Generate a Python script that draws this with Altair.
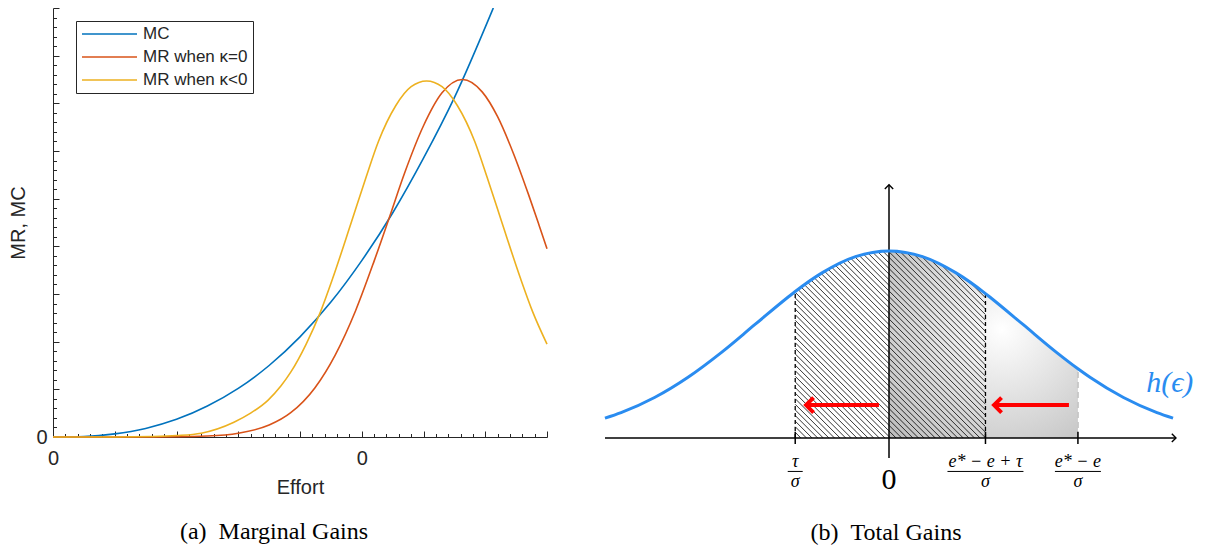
import altair as alt
import numpy as np
import pandas as pd

INK = "#262626"
SANS = "Liberation Sans"
SERIF = "Liberation Serif"

# =====================  (a) Marginal Gains  =====================
series_names = ["MC", "MR when κ=0", "MR when κ<0"]
series_colors = ["#0072BD", "#D95319", "#EDB120"]

mc_effort = [0.0, 0.5, 1.0, 1.5, 2.0, 2.5, 3.0, 3.5, 4.0, 4.5, 5.0, 5.5, 6.0, 6.5, 7.13]
mc_value = [0.0, 0.01, 0.065, 0.18, 0.37, 0.65, 1.02, 1.5, 2.1, 2.83, 3.7, 4.7, 5.85, 7.12, 9.0]

mr0_effort = [0.0, 1.0, 2.0, 2.5, 3.0, 3.5, 3.85, 4.24, 4.57, 4.9, 5.2, 5.44, 5.7, 6.0,
              6.3, 6.63, 6.95, 7.2, 7.45, 7.7, 7.87, 8.0]
mr0_value = [0.0, 0.0, 0.005, 0.02, 0.08, 0.25, 0.51, 1.03, 1.72, 2.65, 3.69, 4.58, 5.56, 6.53,
             7.22, 7.50, 7.24, 6.72, 5.97, 5.09, 4.45, 3.95]

mrn_effort = [0.0, 1.0, 1.6, 2.0, 2.4, 2.93, 3.2, 3.48, 3.69, 3.85, 4.1, 4.33, 4.53, 4.83,
              5.07, 5.27, 5.55, 5.8, 6.05, 6.3, 6.55, 6.83, 7.03, 7.27, 7.57, 7.77, 8.0]
mrn_value = [0.0, 0.0, 0.01, 0.03, 0.08, 0.31, 0.5, 0.77, 1.07, 1.36, 1.95, 2.62, 3.33, 4.5,
             5.45, 6.2, 6.95, 7.35, 7.47, 7.35, 6.95, 6.2, 5.45, 4.5, 3.33, 2.62, 1.95]

x_major = list(range(0, 9))
x_minor = [round(0.2 * i, 1) for i in range(41) if i % 5]
y_major = list(range(0, 10))
y_minor = [round(0.2 * i, 1) for i in range(46) if i % 5]
x_label_values = [0, 5]
y_label_values = [0]

frames = []
for name, xs, ys in zip(series_names, [mc_effort, mr0_effort, mrn_effort],
                        [mc_value, mr0_value, mrn_value]):
    frames.append(pd.DataFrame({"series": name, "effort": xs, "value": ys}))
df_a = pd.concat(frames, ignore_index=True)
df_anchor = pd.DataFrame({"effort": [0.0], "value": [0.0]})

xa = alt.Scale(domain=[0, 8], nice=False, zero=False)
ya = alt.Scale(domain=[0, 9], nice=False, zero=False)

lines = alt.Chart(df_a).mark_line(strokeWidth=1.6, interpolate="monotone").encode(
    x=alt.X("effort:Q", scale=xa, axis=alt.Axis(
        orient="bottom", values=x_label_values, labelExpr="'0'", ticks=False, tickSize=0,
        grid=False, domainColor=INK, domainWidth=1, labelFont=SANS, labelFontSize=20,
        labelColor=INK, labelPadding=11, labelFlush=False, title="Effort", titleFont=SANS,
        titleFontSize=20, titleFontWeight="normal", titleColor=INK, titlePadding=9)),
    y=alt.Y("value:Q", scale=ya, axis=alt.Axis(
        orient="left", values=y_label_values, labelExpr="'0'", ticks=False, tickSize=0,
        grid=False, domainColor=INK, domainWidth=1, labelFont=SANS, labelFontSize=20,
        labelColor=INK, labelPadding=6, labelFlush=False, labelBaseline="middle",
        title="MR, MC", titleFont=SANS, titleFontSize=20, titleFontWeight="normal",
        titleColor=INK, titlePadding=7)),
    color=alt.Color("series:N", scale=alt.Scale(domain=series_names, range=series_colors),
                    legend=alt.Legend(orient="none", legendX=23, legendY=13, title=None,
                                      symbolType="stroke", symbolSize=3025,
                                      symbolStrokeWidth=1.6, clipHeight=16, rowPadding=6,
                                      padding=5, strokeColor=INK, fillColor="white",
                                      labelFont=SANS, labelFontSize=17, labelColor=INK,
                                      labelOffset=5)),
)


def tick_axes(xv, yv, size):
    common = dict(labels=False, domain=False, grid=False, title=None, ticks=True,
                  tickSize=size, tickColor=INK, tickWidth=1, offset=-size)
    return alt.Chart(df_anchor).mark_point(opacity=0, size=0, strokeWidth=0).encode(
        x=alt.X("effort:Q", scale=xa, axis=alt.Axis(orient="bottom", values=xv, **common)),
        y=alt.Y("value:Q", scale=ya, axis=alt.Axis(orient="left", values=yv, **common)),
    )


left = alt.layer(lines, tick_axes(x_major, y_major, 6), tick_axes(x_minor, y_minor, 3.5)
                 ).resolve_axis(x="independent", y="independent").properties(
    width=494, height=429,
    title=alt.TitleParams("(a)\u2002Marginal Gains", orient="bottom", frame="group",
                          font=SERIF, fontSize=24, fontWeight="normal", color="black",
                          offset=23, dx=-26))

# =====================  (b) Total Gains  =====================
eps = [-2.12, -2.0, -1.75, -1.5, -1.25, -1.0, -0.75, -0.70, -0.5, -0.25, 0.0,
       0.25, 0.5, 0.72, 0.75, 1.0, 1.25, 1.41, 1.5, 1.75, 2.0, 2.12]
dens = [0.0422, 0.0540, 0.0863, 0.1295, 0.1826, 0.2420, 0.3011, 0.3123, 0.3521, 0.3867, 0.3989,
        0.3867, 0.3521, 0.3079, 0.3011, 0.2420, 0.1826, 0.1476, 0.1295, 0.0863, 0.0540, 0.0422]

tau_pos, gap_pos, target_pos = -0.70, 0.72, 1.41
bound_pos = [tau_pos, gap_pos, target_pos]
bound_top = [0.3123, 0.3079, 0.1476]
frac_num = ["τ", "e* − e + τ", "e* − e"]
frac_den = ["σ", "σ", "σ"]
arrow_from = [-0.075, 1.343]
arrow_to = [-0.619, 0.784]
arrow_y = [0.070, 0.070]
curve_label = ["h(ϵ)"]
curve_label_x = [1.92]
curve_label_y = [0.098]
axis_h = {"x1": [-2.12], "x2": [2.142], "y": [0.0]}
axis_v = {"x": [0.0], "y1": [-0.043], "y2": [0.54]}

# layout constants (pixels per unit on each axis, text positions)
PX_X, PX_Y = 134.0, 468.8
xdom = [-2.478, 2.254]
ydom = [-0.126, 0.917]
W_R = round((xdom[1] - xdom[0]) * PX_X)
H_R = round((ydom[1] - ydom[0]) * PX_Y)
NUM_BASE, BAR_Y, DEN_BASE, ZERO_BASE = -0.062, -0.0715, -0.1056, -0.1088
BAR_HALF_PX = [7.5, 38, 23]
HATCH_STEP_PX = 5.6
HATCH_TOP = 0.42
MASK_PAD = 0.05
TICK_HALF = 0.013
BLUE = "#2a8cf0"
RED = "#ff0000"

xr = alt.Scale(domain=xdom, nice=False, zero=False)
yr = alt.Scale(domain=ydom, nice=False, zero=False)


def X(f):
    return alt.X(f, type="quantitative", scale=xr, axis=None)


def Y(f):
    return alt.Y(f, type="quantitative", scale=yr, axis=None)


df_curve = pd.DataFrame({"eps": eps, "dens": dens})
df_curve["base"] = 0.0
df_curve["masktop"] = HATCH_TOP + 0.01

# hatch lines at 45 degrees on screen
slope = PX_X / PX_Y
run = HATCH_TOP / slope
rows = []
for xt in np.arange(tau_pos - run, gap_pos, HATCH_STEP_PX / PX_X):
    x1 = max(tau_pos, xt)
    x2 = min(gap_pos, xt + run)
    if x2 > x1:
        rows.append({"hx1": x1, "hy1": HATCH_TOP - (x1 - xt) * slope,
                     "hx2": x2, "hy2": HATCH_TOP - (x2 - xt) * slope})
df_hatch = pd.DataFrame(rows)

df_bounds = pd.DataFrame({"pos": bound_pos, "top": bound_top})
df_bounds["base"] = 0.0
df_bounds["tlo"] = -TICK_HALF
df_bounds["thi"] = TICK_HALF
df_frac = pd.DataFrame({"pos": bound_pos, "num": frac_num, "den": frac_den})
df_frac["bx1"] = df_frac["pos"] - np.array(BAR_HALF_PX) / PX_X
df_frac["bx2"] = df_frac["pos"] + np.array(BAR_HALF_PX) / PX_X
df_frac["ny"] = NUM_BASE
df_frac["by"] = BAR_Y
df_frac["dy"] = DEN_BASE
df_arrows = pd.DataFrame({"x_from": arrow_from, "x_to": arrow_to, "y": arrow_y})
df_label = pd.DataFrame({"x": curve_label_x, "y": curve_label_y, "t": curve_label})
df_axh = pd.DataFrame(axis_h)
df_axv = pd.DataFrame(axis_v)
df_zero = pd.DataFrame({"x": [0.0], "y": [ZERO_BASE], "t": ["0"]})

gradient = {"gradient": "radial", "x1": 0.6, "y1": 0.42, "r1": 0.0,
            "x2": 0.6, "y2": 0.42, "r2": 0.95,
            "stops": [{"offset": 0, "color": "#ffffff"}, {"offset": 1, "color": "#b2b2b2"}]}

gray = alt.Chart(df_curve).transform_filter(
    f"datum.eps >= 0 && datum.eps <= {target_pos}"
).mark_area(interpolate="monotone", color=gradient).encode(
    x=X("eps"), y=Y("dens"), y2="base:Q")

hatch = alt.Chart(df_hatch).mark_rule(color="black", strokeWidth=0.8).encode(
    x=X("hx1"), y=Y("hy1"), x2="hx2:Q", y2="hy2:Q")

mask = alt.Chart(df_curve).transform_filter(
    f"datum.eps >= {tau_pos - MASK_PAD} && datum.eps <= {gap_pos + MASK_PAD}"
).mark_area(interpolate="monotone", color="white").encode(
    x=X("eps"), y=Y("dens"), y2="masktop:Q")

dash_black = alt.Chart(df_bounds.iloc[:2]).mark_rule(
    color="black", strokeWidth=1.3, strokeDash=[4, 3]).encode(
    x=X("pos"), y=Y("base"), y2="top:Q")
dash_gray = alt.Chart(df_bounds.iloc[2:]).mark_rule(
    color="#c8c8c8", strokeWidth=2, strokeDash=[6, 4]).encode(
    x=X("pos"), y=Y("base"), y2="top:Q")

ax_h = alt.Chart(df_axh).mark_rule(color="black", strokeWidth=1.5).encode(
    x=X("x1"), x2="x2:Q", y=Y("y"))
ax_v = alt.Chart(df_axv).mark_rule(color="black", strokeWidth=1.5).encode(
    x=X("x"), y=Y("y1"), y2="y2:Q")
head_r = alt.Chart(df_axh).mark_point(shape="M-1,-1L0,0L-1,1", filled=False, size=70,
                                      strokeWidth=1.4, color="black", opacity=1).encode(
    x=X("x2"), y=Y("y"))
head_u = alt.Chart(df_axv).mark_point(shape="M-1,1L0,0L1,1", filled=False, size=70,
                                      strokeWidth=1.4, color="black", opacity=1).encode(
    x=X("x"), y=Y("y2"))
ticks = alt.Chart(df_bounds).mark_rule(color="black", strokeWidth=1.5).encode(
    x=X("pos"), y=Y("tlo"), y2="thi:Q")

curve = alt.Chart(df_curve).mark_line(color=BLUE, strokeWidth=3, interpolate="monotone").encode(
    x=X("eps"), y=Y("dens"))

shaft = alt.Chart(df_arrows).mark_rule(color=RED, strokeWidth=4).encode(
    x=X("x_from"), x2="x_to:Q", y=Y("y"))
head = alt.Chart(df_arrows).mark_point(shape="M1,-1L0,0L1,1", filled=False, size=225,
                                       strokeWidth=4, color=RED, opacity=1,
                                       strokeJoin="miter").encode(
    x=X("x_to"), y=Y("y"))

num = alt.Chart(df_frac).mark_text(font=SERIF, fontStyle="italic", fontSize=18,
                                   baseline="alphabetic", align="center", color="black").encode(
    x=X("pos"), y=Y("ny"), text="num:N")
bar = alt.Chart(df_frac).mark_rule(color="black", strokeWidth=1).encode(
    x=X("bx1"), x2="bx2:Q", y=Y("by"))
den = alt.Chart(df_frac).mark_text(font=SERIF, fontStyle="italic", fontSize=18,
                                   baseline="alphabetic", align="center", color="black").encode(
    x=X("pos"), y=Y("dy"), text="den:N")
zero = alt.Chart(df_zero).mark_text(font=SERIF, fontSize=30, baseline="alphabetic",
                                    align="center", color="black").encode(
    x=X("x"), y=Y("y"), text="t:N")
hlabel = alt.Chart(df_label).mark_text(font=SERIF, fontStyle="italic", fontSize=30,
                                       baseline="alphabetic", align="left", color=BLUE).encode(
    x=X("x"), y=Y("y"), text="t:N")

right = alt.layer(gray, hatch, mask, dash_black, dash_gray, ax_h, ax_v, head_r, head_u,
                  ticks, curve, shaft, head, num, bar, den, zero, hlabel).properties(
    width=W_R, height=H_R,
    title=alt.TitleParams("(b)\u2002Total Gains", orient="bottom", frame="group",
                          font=SERIF, fontSize=24, fontWeight="normal", color="black",
                          offset=24, dx=12))

chart = alt.hconcat(left, right, spacing=6).properties(
    padding={"left": 0, "top": -4, "right": 0, "bottom": 0}
).configure(background="white").configure_view(strokeWidth=0, stroke=None)

chart.save("out.html", embed_options={"renderer": "svg", "actions": False})
